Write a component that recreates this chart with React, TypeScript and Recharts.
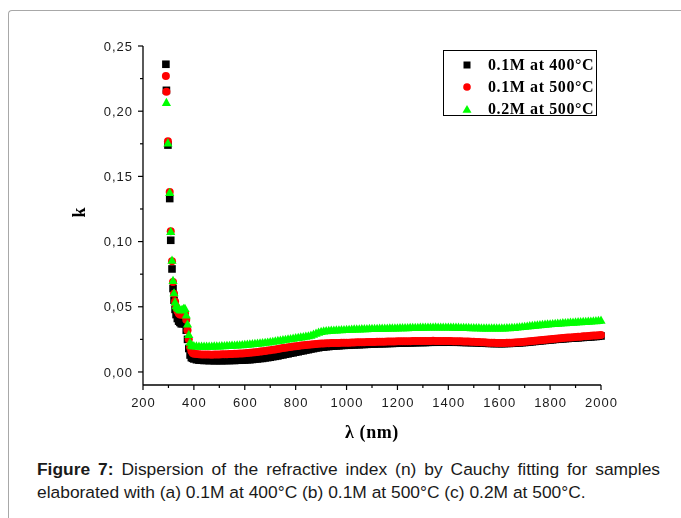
import { ScatterChart, Scatter, XAxis, YAxis, Legend } from "recharts";

// wavelength (nm): sparse points on the steep edge, then every 10 nm
const wavelengths = [
  290, 292, 298, 305, 309, 314, 318, 322, 326, 330, 335, 340, 345, 350, 355, 360, 365, 370, 375, 380, 385, 390, 395,
  400, 410, 420, 430, 440, 450, 460, 470, 480, 490,
  500, 510, 520, 530, 540, 550, 560, 570, 580, 590,
  600, 610, 620, 630, 640, 650, 660, 670, 680, 690,
  700, 710, 720, 730, 740, 750, 760, 770, 780, 790,
  800, 810, 820, 830, 840, 850, 860, 870, 880, 890,
  900, 910, 920, 930, 940, 950, 960, 970, 980, 990,
  1000, 1010, 1020, 1030, 1040, 1050, 1060, 1070, 1080, 1090,
  1100, 1110, 1120, 1130, 1140, 1150, 1160, 1170, 1180, 1190,
  1200, 1210, 1220, 1230, 1240, 1250, 1260, 1270, 1280, 1290,
  1300, 1310, 1320, 1330, 1340, 1350, 1360, 1370, 1380, 1390,
  1400, 1410, 1420, 1430, 1440, 1450, 1460, 1470, 1480, 1490,
  1500, 1510, 1520, 1530, 1540, 1550, 1560, 1570, 1580, 1590,
  1600, 1610, 1620, 1630, 1640, 1650, 1660, 1670, 1680, 1690,
  1700, 1710, 1720, 1730, 1740, 1750, 1760, 1770, 1780, 1790,
  1800, 1810, 1820, 1830, 1840, 1850, 1860, 1870, 1880, 1890,
  1900, 1910, 1920, 1930, 1940, 1950, 1960, 1970, 1980, 1990,
  2000,
];

// k, 0.1M at 400°C
const k01M400 = [
  0.236, 0.216, 0.174, 0.133, 0.101, 0.079, 0.064, 0.055, 0.048, 0.044, 0.041, 0.039, 0.038, 0.037, 0.037, 0.038, 0.037, 0.032, 0.025, 0.018, 0.013, 0.011, 0.0105,
  0.0100, 0.0094, 0.0091, 0.0090, 0.0088, 0.0089, 0.0087, 0.0088, 0.0086, 0.0087,
  0.0087, 0.0086, 0.0088, 0.0087, 0.0088, 0.0089, 0.0088, 0.0090, 0.0090, 0.0091,
  0.0092, 0.0094, 0.0094, 0.0096, 0.0099, 0.0100, 0.0103, 0.0104, 0.0108, 0.0110,
  0.0113, 0.0117, 0.0120, 0.0123, 0.0128, 0.0131, 0.0136, 0.0139, 0.0144, 0.0147,
  0.0152, 0.0155, 0.0160, 0.0163, 0.0168, 0.0171, 0.0176, 0.0179, 0.0184, 0.0186,
  0.0190, 0.0191, 0.0194, 0.0195, 0.0198, 0.0199, 0.0200, 0.0201, 0.0203, 0.0204,
  0.0205, 0.0205, 0.0207, 0.0208, 0.0209, 0.0209, 0.0211, 0.0211, 0.0212, 0.0213,
  0.0214, 0.0214, 0.0216, 0.0216, 0.0217, 0.0217, 0.0218, 0.0219, 0.0219, 0.0220,
  0.0221, 0.0221, 0.0222, 0.0222, 0.0223, 0.0223, 0.0224, 0.0225, 0.0225, 0.0226,
  0.0226, 0.0226, 0.0227, 0.0228, 0.0228, 0.0228, 0.0229, 0.0229, 0.0228, 0.0229,
  0.0229, 0.0229, 0.0228, 0.0228, 0.0228, 0.0227, 0.0227, 0.0226, 0.0226, 0.0225,
  0.0225, 0.0224, 0.0223, 0.0222, 0.0221, 0.0220, 0.0219, 0.0219, 0.0218, 0.0218,
  0.0218, 0.0217, 0.0218, 0.0219, 0.0219, 0.0220, 0.0221, 0.0222, 0.0223, 0.0225,
  0.0226, 0.0228, 0.0230, 0.0232, 0.0234, 0.0236, 0.0238, 0.0240, 0.0242, 0.0244,
  0.0246, 0.0247, 0.0250, 0.0251, 0.0253, 0.0254, 0.0256, 0.0257, 0.0259, 0.0260,
  0.0261, 0.0262, 0.0264, 0.0265, 0.0267, 0.0268, 0.0269, 0.0271, 0.0272, 0.0274,
  0.0276,
];

// k, 0.1M at 500°C
const k01M500 = [
  0.227, 0.215, 0.177, 0.138, 0.108, 0.085, 0.069, 0.060, 0.054, 0.050, 0.047, 0.045, 0.044, 0.044, 0.044, 0.045, 0.045, 0.040, 0.032, 0.025, 0.019, 0.016, 0.0145,
  0.0140, 0.0137, 0.0135, 0.0134, 0.0134, 0.0133, 0.0133, 0.0132, 0.0133, 0.0134,
  0.0134, 0.0135, 0.0135, 0.0136, 0.0137, 0.0138, 0.0139, 0.0140, 0.0141, 0.0142,
  0.0144, 0.0146, 0.0148, 0.0150, 0.0152, 0.0154, 0.0156, 0.0158, 0.0161, 0.0164,
  0.0167, 0.0170, 0.0173, 0.0176, 0.0180, 0.0183, 0.0186, 0.0189, 0.0192, 0.0195,
  0.0198, 0.0200, 0.0203, 0.0205, 0.0207, 0.0209, 0.0211, 0.0213, 0.0215, 0.0217,
  0.0218, 0.0219, 0.0220, 0.0221, 0.0222, 0.0222, 0.0223, 0.0223, 0.0224, 0.0224,
  0.0225, 0.0225, 0.0226, 0.0226, 0.0227, 0.0227, 0.0228, 0.0228, 0.0229, 0.0229,
  0.0230, 0.0230, 0.0231, 0.0231, 0.0232, 0.0232, 0.0233, 0.0233, 0.0234, 0.0234,
  0.0235, 0.0235, 0.0235, 0.0236, 0.0236, 0.0236, 0.0237, 0.0237, 0.0237, 0.0237,
  0.0238, 0.0238, 0.0238, 0.0238, 0.0239, 0.0238, 0.0238, 0.0238, 0.0238, 0.0237,
  0.0237, 0.0237, 0.0236, 0.0236, 0.0235, 0.0235, 0.0234, 0.0234, 0.0233, 0.0232,
  0.0231, 0.0230, 0.0229, 0.0228, 0.0227, 0.0226, 0.0225, 0.0224, 0.0224, 0.0223,
  0.0223, 0.0223, 0.0223, 0.0224, 0.0224, 0.0225, 0.0226, 0.0227, 0.0228, 0.0229,
  0.0231, 0.0233, 0.0235, 0.0237, 0.0239, 0.0241, 0.0243, 0.0245, 0.0247, 0.0249,
  0.0251, 0.0253, 0.0255, 0.0257, 0.0259, 0.0260, 0.0262, 0.0264, 0.0265, 0.0267,
  0.0268, 0.0270, 0.0271, 0.0273, 0.0274, 0.0276, 0.0277, 0.0279, 0.0280, 0.0282,
  0.0284,
];

// k, 0.2M at 500°C
const k02M500 = [
  null, 0.207, 0.176, 0.138, 0.108, 0.086, 0.0705, 0.061, 0.054, 0.051, 0.050, 0.049, 0.048, 0.048, 0.048, 0.049, 0.049, 0.044, 0.037, 0.029, 0.023, 0.021, 0.0205,
  0.0205, 0.0202, 0.0200, 0.0200, 0.0200, 0.0200, 0.0201, 0.0201, 0.0202, 0.0202,
  0.0203, 0.0204, 0.0205, 0.0206, 0.0207, 0.0208, 0.0209, 0.0210, 0.0211, 0.0212,
  0.0214, 0.0216, 0.0218, 0.0220, 0.0222, 0.0224, 0.0226, 0.0228, 0.0230, 0.0232,
  0.0235, 0.0238, 0.0241, 0.0244, 0.0247, 0.0250, 0.0253, 0.0256, 0.0259, 0.0262,
  0.0265, 0.0268, 0.0271, 0.0274, 0.0277, 0.0280, 0.0285, 0.0292, 0.0300, 0.0308,
  0.0314, 0.0318, 0.0320, 0.0322, 0.0323, 0.0324, 0.0325, 0.0326, 0.0327, 0.0328,
  0.0329, 0.0330, 0.0331, 0.0332, 0.0333, 0.0333, 0.0334, 0.0335, 0.0335, 0.0336,
  0.0336, 0.0337, 0.0337, 0.0338, 0.0338, 0.0339, 0.0339, 0.0340, 0.0340, 0.0341,
  0.0341, 0.0342, 0.0342, 0.0343, 0.0343, 0.0344, 0.0344, 0.0345, 0.0345, 0.0346,
  0.0346, 0.0346, 0.0347, 0.0347, 0.0347, 0.0348, 0.0347, 0.0347, 0.0347, 0.0347,
  0.0347, 0.0347, 0.0346, 0.0346, 0.0346, 0.0345, 0.0345, 0.0344, 0.0344, 0.0343,
  0.0343, 0.0342, 0.0342, 0.0341, 0.0341, 0.0340, 0.0340, 0.0340, 0.0340, 0.0340,
  0.0340, 0.0341, 0.0341, 0.0342, 0.0343, 0.0344, 0.0345, 0.0347, 0.0349, 0.0351,
  0.0353, 0.0355, 0.0357, 0.0359, 0.0361, 0.0363, 0.0365, 0.0367, 0.0369, 0.0371,
  0.0372, 0.0374, 0.0375, 0.0377, 0.0378, 0.0380, 0.0381, 0.0383, 0.0384, 0.0385,
  0.0386, 0.0388, 0.0389, 0.0390, 0.0391, 0.0392, 0.0393, 0.0395, 0.0396, 0.0398,
  0.0400,
];

const seriesNames = ["0.1M at 400°C", "0.1M at 500°C", "0.2M at 500°C"];
const seriesColors = ["#000000", "#ff0000", "#00ff00"];

const xTicks = [200, 300, 400, 500, 600, 700, 800, 900, 1000, 1100, 1200, 1300, 1400, 1500, 1600, 1700, 1800, 1900, 2000];
const yTicks = [0, 0.025, 0.05, 0.075, 0.1, 0.125, 0.15, 0.175, 0.2, 0.225, 0.25];

const toPoints = (vals: (number | null)[]) =>
  wavelengths
    .map((x, i) => ({ x, y: vals[i] }))
    .filter((p) => p.y !== null);

const tickFont = "'Liberation Sans', Arial, sans-serif";
const serif = "'Liberation Serif', 'Times New Roman', serif";

const isMajorX = (v: number) => v % 200 === 0;
const isMajorY = (v: number) => Math.round(v * 1000) % 50 === 0;

function BottomTick({ x, y, payload }: any) {
  const major = isMajorX(payload.value);
  return (
    <g>
      <line x1={x} x2={x} y1={y} y2={y + (major ? 5 : 3)} stroke="#000" strokeWidth={1.2} />
      {major && (
        <text x={x + 0.5} y={y + 22} textAnchor="middle" fontSize={13} letterSpacing={1} fontFamily={tickFont} fill="#1a1a1a">
          {payload.value}
        </text>
      )}
    </g>
  );
}

function TopTick({ x, y, payload }: any) {
  const major = isMajorX(payload.value);
  return <line x1={x} x2={x} y1={y} y2={y + (major ? 5 : 3)} stroke="#000" strokeWidth={1.2} />;
}

function LeftTick({ x, y, payload }: any) {
  const major = isMajorY(payload.value);
  return (
    <g>
      <line x1={x} x2={x - (major ? 5 : 3)} y1={y} y2={y} stroke="#000" strokeWidth={1.2} />
      {major && (
        <text x={x - 10} y={y + 4.6} textAnchor="end" fontSize={13} letterSpacing={1} fontFamily={tickFont} fill="#1a1a1a">
          {payload.value.toFixed(2).replace(".", ",")}
        </text>
      )}
    </g>
  );
}

function RightTick({ x, y, payload }: any) {
  const major = isMajorY(payload.value);
  return <line x1={x} x2={x - (major ? 5 : 3)} y1={y} y2={y} stroke="#000" strokeWidth={1.2} />;
}

function SquareMark({ cx, cy }: any) {
  return <rect x={cx - 3.8} y={cy - 3.8} width={7.6} height={7.6} fill={seriesColors[0]} />;
}

function CircleMark({ cx, cy }: any) {
  return <circle cx={cx} cy={cy} r={4} fill={seriesColors[1]} />;
}

function TriangleMark({ cx, cy }: any) {
  return <polygon points={`${cx},${cy - 4.3} ${cx + 4.6},${cy + 3.9} ${cx - 4.6},${cy + 3.9}`} fill={seriesColors[2]} />;
}

function LegendMarker({ index }: { index: number }) {
  return (
    <svg width={10} height={10} style={{ display: "block" }}>
      {index === 0 && <rect x={1.5} y={1.5} width={7} height={7} fill={seriesColors[0]} />}
      {index === 1 && <circle cx={5} cy={5} r={3.8} fill={seriesColors[1]} />}
      {index === 2 && <polygon points="5,1 9.5,8.8 0.5,8.8" fill={seriesColors[2]} />}
    </svg>
  );
}

function LegendBox() {
  return (
    <div style={{ position: "relative", width: 154, height: 66, border: "1.2px solid #000", boxSizing: "border-box", background: "#fff" }}>
      {seriesNames.map((name, i) => (
        <div key={name} style={{ position: "absolute", left: 0, top: 3 + i * 22, height: 22, display: "flex", alignItems: "center" }}>
          <div style={{ marginLeft: 18 }}>
            <LegendMarker index={i} />
          </div>
          <span
            style={{
              marginLeft: 16,
              fontFamily: serif,
              fontWeight: "bold",
              fontSize: 16,
              letterSpacing: 0.6,
              color: "#000",
              whiteSpace: "nowrap",
            }}
          >
            {name}
          </span>
        </div>
      ))}
    </div>
  );
}

export default function App() {
  return (
    <div style={{ position: "relative", width: 665 }}>
      <div
        style={{
          position: "fixed",
          left: 8,
          top: 10,
          width: 720,
          height: 560,
          borderTop: "1px solid #a8a8a8",
          borderLeft: "1px solid #a8a8a8",
          borderTopLeftRadius: 4,
        }}
      />
      <ScatterChart width={665} height={440} margin={{ top: 38, right: 72, left: 75, bottom: 8 }}>
        <XAxis
          dataKey="x"
          type="number"
          domain={[200, 2000]}
          ticks={xTicks}
          interval={0}
          height={55}
          tickSize={0}
          tickMargin={0}
          tick={BottomTick}
          axisLine={{ stroke: "#000", strokeWidth: 1.3 }}
          label={{
            value: "λ (nm)",
            content: ({ viewBox }: any) => (
              <text
                x={viewBox.x + viewBox.width / 2}
                y={viewBox.y + 53}
                textAnchor="middle"
                fontFamily={serif}
                fontWeight="bold"
                fontSize={18}
                letterSpacing={0.6}
                fill="#000"
              >
                λ (nm)
              </text>
            ),
          }}
        />
        <XAxis
          xAxisId="top"
          orientation="top"
          type="number"
          domain={[200, 2000]}
          ticks={xTicks}
          interval={0}
          height={0}
          tickSize={0}
          tickMargin={0}
          tick={TopTick}
          axisLine={{ stroke: "#000", strokeWidth: 1.3 }}
        />
        <YAxis
          dataKey="y"
          type="number"
          domain={[-0.01, 0.25]}
          ticks={yTicks}
          interval={0}
          width={60}
          tickSize={0}
          tickMargin={0}
          tick={LeftTick}
          axisLine={{ stroke: "#000", strokeWidth: 1.3 }}
          label={{
            value: "k",
            content: ({ viewBox }: any) => {
              const cx = 77;
              const cy = viewBox.y + viewBox.height / 2 - 3;
              return (
                <text
                  x={cx}
                  y={cy}
                  transform={`rotate(-90 ${cx} ${cy})`}
                  textAnchor="middle"
                  fontFamily={serif}
                  fontWeight="bold"
                  fontSize={18}
                  fill="#000"
                >
                  k
                </text>
              );
            },
          }}
        />
        <YAxis
          yAxisId="right"
          orientation="right"
          type="number"
          domain={[-0.01, 0.25]}
          ticks={yTicks}
          interval={0}
          width={0}
          tickSize={0}
          tickMargin={0}
          tick={RightTick}
          axisLine={{ stroke: "#000", strokeWidth: 1.3 }}
        />
        <Legend
          layout="vertical"
          align="center"
          verticalAlign="middle"
          content={() => <LegendBox />}
          wrapperStyle={{ position: "absolute", left: 435, top: 42, width: 154, height: 66 }}
        />
        <Scatter name={seriesNames[0]} data={toPoints(k01M400)} shape={SquareMark} isAnimationActive={false} />
        <Scatter name={seriesNames[1]} data={toPoints(k01M500)} shape={CircleMark} isAnimationActive={false} />
        <Scatter name={seriesNames[2]} data={toPoints(k02M500)} shape={TriangleMark} isAnimationActive={false} />
      </ScatterChart>
      <div
        style={{
          marginTop: 10,
          marginLeft: 29,
          width: 623,
          fontFamily: "'Liberation Sans', Arial, sans-serif",
          fontSize: 17.4,
          lineHeight: "23px",
          color: "#1a1a1a",
          textAlign: "justify",
        }}
      >
        <b>Figure 7:</b> Dispersion of the refractive index (n) by Cauchy fitting for samples elaborated with (a) 0.1M at
        400°C (b) 0.1M at 500°C (c) 0.2M at 500°C.
      </div>
    </div>
  );
}
